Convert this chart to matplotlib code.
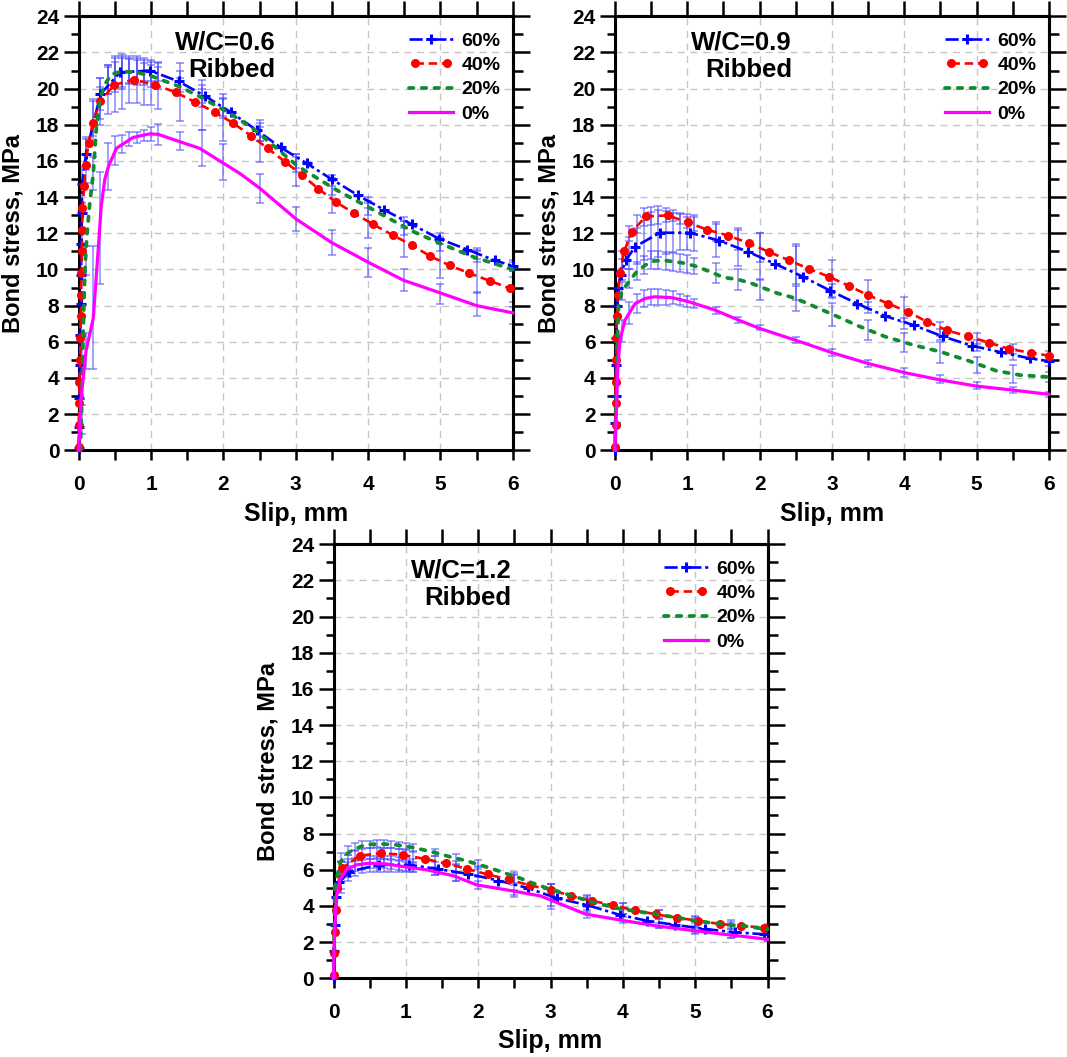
import matplotlib
matplotlib.use("Agg")
import matplotlib.pyplot as plt
from matplotlib.ticker import MultipleLocator
from matplotlib.legend_handler import HandlerLine2D

plt.rcParams['font.family'] = ['Liberation Sans', 'DejaVu Sans']
plt.rcParams['font.weight'] = 'bold'

# ---------------- data ----------------
series_labels = ['60%', '40%', '20%', '0%']
panel_titles = ['W/C=0.6', 'W/C=0.9', 'W/C=1.2']
bar_type = 'Ribbed'
x_label = 'Slip, mm'
y_label = 'Bond stress, MPa'

# Panel W/C=0.6
tl_x60 = [0, .004, .009, .014, .019, .024, .03, .037, .04, .047, .1, .3, .57, .98, 1.38, 1.74, 2.1, 2.46, 2.79, 3.15, 3.5, 3.86, 4.22, 4.6, 4.98, 5.37, 5.75, 6.0]
tl_y60 = [0.1, 1.3, 2.9, 4.7, 6.4, 8.1, 9.7, 11.4, 13.1, 14.75, 16.4, 19.7, 20.9, 21.0, 20.4, 19.6, 18.7, 17.7, 16.75, 15.87, 14.98, 14.1, 13.3, 12.5, 11.7, 11.1, 10.5, 10.2]
tl_x40 = [0, 0, .009, .009, .019, .023, .028, .033, .037, .042, .047, .051, .075, .093, .135, .196, .294, .49, .76, 1.06, 1.34, 1.61, 1.88, 2.13, 2.38, 2.61, 2.85, 3.09, 3.31, 3.55, 3.81, 4.07, 4.34, 4.6, 4.86, 5.13, 5.4, 5.69, 5.96]
tl_y40 = [0.19, 1.4, 2.6, 3.8, 5.0, 6.2, 7.4, 8.6, 9.8, 11.0, 12.2, 13.4, 14.6, 15.8, 17.0, 18.1, 19.3, 20.2, 20.5, 20.2, 19.8, 19.25, 18.7, 18.1, 17.4, 16.7, 15.96, 15.2, 14.47, 13.74, 13.1, 12.49, 11.9, 11.35, 10.73, 10.22, 9.79, 9.36, 8.95]
tl_x20 = [.02, .04, .055, .07, .085, .11, .15, .2, .24, .29, .34, .45, .6, .8, 1.0, 1.4, 1.7, 2.1, 2.44, 3.03, 3.56, 4.07, 4.62, 4.99, 5.45, 6.0]
tl_y20 = [0, 2.5, 5.5, 8.0, 10.0, 11.8, 13.6, 15.3, 17.7, 19.2, 20.1, 20.8, 20.95, 20.9, 20.7, 20.1, 19.5, 18.6, 17.7, 15.7, 14.4, 13.3, 12.1, 11.45, 10.7, 10.0]
tl_x0 = [0, .03, .1, .2, .27, .31, .36, .41, .52, .75, .98, 1.1, 1.4, 1.67, 1.97, 2.23, 2.5, 3.0, 3.49, 4.0, 4.49, 5.0, 5.5, 6.0]
tl_y0 = [0, 2.8, 5.5, 7.3, 11.2, 13.5, 15.0, 15.7, 16.7, 17.3, 17.5, 17.47, 17.06, 16.7, 15.95, 15.3, 14.5, 12.8, 11.5, 10.4, 9.4, 8.7, 8.0, 7.6]
tl_ex = [.05, .1, .2, .3, .4, .5, .6, .7, .8, .9, 1.0, 1.1, 1.4, 1.7, 2.0, 2.5, 3.0, 3.5, 4.0, 4.5, 5.0, 5.5, 6.0]
tl_ey60 = [14.7, 16.4, 18.4, 19.7, 20.5, 20.8, 20.9, 21.0, 21.0, 21.0, 21.0, 20.9, 20.4, 19.7, 19.1, 17.6, 16.0, 14.9, 13.7, 12.6, 11.7, 10.9, 10.2]
tl_ee60 = [1.0, 0.9, 1.0, 0.9, 0.8, 1.0, 0.9, 0.7, 0.7, 0.6, 0.6, 0.5, 0.6, 0.5, 0.6, 0.5, 0.4, 0.3, 0.3, 0.3, 0.3, 0.3, 0.3]
tl_ey40 = [12.2, 16.0, 18.1, 19.3, 19.9, 20.2, 20.4, 20.5, 20.5, 20.4, 20.3, 20.2, 19.8, 19.1, 18.3, 17.1, 15.5, 14.1, 12.7, 11.7, 10.6, 9.9, 8.9]
tl_ee40 = [1.2, 1.2, 1.2, 1.3, 1.3, 1.5, 1.5, 1.3, 1.3, 1.3, 1.2, 1.3, 1.6, 1.4, 1.2, 1.15, 0.87, 0.95, 0.97, 1.0, 1.05, 1.2, 1.0]
tl_ey20 = [5.5, 10.5, 15.3, 19.2, 20.5, 20.8, 20.9, 20.95, 20.9, 20.8, 20.7, 20.6, 20.1, 19.5, 18.9, 17.5, 15.8, 14.5, 13.4, 12.3, 11.4, 10.7, 10.0]
tl_ee20 = [0.8, 0.8, 0.9, 0.9, 0.8, 0.7, 0.8, 0.7, 0.7, 0.6, 0.6, 0.6, 0.5, 0.5, 0.5, 0.4, 0.4, 0.4, 0.4, 0.4, 0.4, 0.3, 0.4]
tl_ey0 = [1.7, 5.5, 7.9, 12.3, 15.7, 16.6, 16.95, 17.2, 17.3, 17.4, 17.5, 17.47, 17.1, 16.7, 15.95, 14.5, 12.8, 11.5, 10.4, 9.4, 8.65, 8.1, 7.6]
tl_ee0 = [0.8, 1.0, 3.4, 3.1, 1.3, 0.8, 0.5, 0.4, 0.3, 0.3, 0.4, 0.6, 0.5, 1.0, 1.0, 0.8, 0.65, 0.7, 0.8, 0.6, 0.55, 0.67, 0.6]

# Panel W/C=0.9
tr_x60 = [0, .005, .01, .015, .02, .03, .04, .08, .15, .28, .62, 1.04, 1.44, 1.84, 2.22, 2.6, 2.98, 3.35, 3.74, 4.13, 4.53, 4.93, 5.34, 5.74, 6.0]
tr_y60 = [0, 1.5, 3.0, 4.7, 6.2, 8.0, 9.0, 9.7, 10.5, 11.26, 12.03, 12.03, 11.6, 10.98, 10.3, 9.6, 8.82, 8.11, 7.42, 6.92, 6.3, 5.79, 5.42, 5.08, 4.93]
tr_x40 = [0, .009, .009, .009, .019, .019, .028, .043, .071, .128, .232, .426, .73, 1.01, 1.28, 1.57, 1.86, 2.13, 2.41, 2.68, 2.96, 3.23, 3.5, 3.78, 4.05, 4.32, 4.59, 4.88, 5.17, 5.45, 5.75, 6.0]
tr_y40 = [0.19, 1.4, 2.6, 3.8, 5.0, 6.2, 7.4, 8.6, 9.8, 11.0, 12.07, 12.93, 12.99, 12.6, 12.19, 11.87, 11.44, 10.97, 10.5, 10.04, 9.6, 9.1, 8.58, 8.11, 7.66, 7.1, 6.64, 6.3, 5.96, 5.6, 5.4, 5.23]
tr_x20 = [0, .015, .03, .05, .09, .14, .3, .42, .55, .72, .93, 1.11, 1.32, 1.5, 1.7, 1.89, 2.07, 2.25, 2.45, 2.61, 3.0, 3.37, 3.74, 4.13, 4.5, 4.89, 5.27, 5.6, 6.0]
tr_y20 = [0, 2.5, 5.5, 8.0, 8.7, 9.04, 9.87, 10.24, 10.48, 10.48, 10.37, 10.19, 9.87, 9.56, 9.45, 9.23, 8.95, 8.68, 8.46, 8.21, 7.53, 6.87, 6.28, 5.82, 5.45, 4.95, 4.4, 4.16, 4.05]
tr_x0 = [0, .02, .04, .07, .14, .28, .42, .55, .79, 1.02, 1.38, 1.71, 2.0, 2.35, 2.63, 3.0, 3.5, 4.01, 4.5, 5.0, 5.5, 5.88, 6.0]
tr_y0 = [0, 2.0, 4.5, 6.1, 7.2, 8.12, 8.4, 8.49, 8.44, 8.22, 7.76, 7.2, 6.74, 6.28, 5.91, 5.4, 4.8, 4.29, 3.89, 3.55, 3.33, 3.15, 3.1]
tr_ex = [.1, .2, .3, .4, .5, .6, .7, .8, .9, 1.0, 1.1, 1.4, 1.7, 2.0, 2.5, 3.0, 3.5, 4.0, 4.5, 5.0, 5.5, 6.0]
tr_ey60 = [10.0, 10.9, 11.3, 11.7, 11.9, 12.0, 12.05, 12.05, 12.05, 12.05, 12.0, 11.6, 11.2, 10.7, 9.8, 8.8, 7.9, 7.0, 6.4, 5.8, 5.3, 4.95]
tr_ee60 = [0.6, 0.9, 1.0, 1.2, 1.3, 1.3, 1.2, 1.1, 1.0, 1.0, 1.0, 0.9, 1.0, 1.3, 1.5, 0.4, 0.3, 0.3, 0.3, 0.3, 0.3, 0.3]
tr_ey40 = [10.5, 12.0, 12.5, 12.9, 12.95, 13.0, 13.0, 13.0, 12.8, 12.6, 12.5, 12.1, 11.7, 11.2, 10.3, 9.5, 8.6, 7.8, 6.7, 6.2, 5.6, 5.2]
tr_ee40 = [0.5, 0.4, 0.5, 0.5, 0.5, 0.5, 0.4, 0.3, 0.3, 0.3, 0.4, 0.5, 0.6, 0.8, 1.1, 1.0, 0.8, 0.7, 0.4, 0.3, 0.3, 0.3]
tr_ey20 = [8.8, 9.5, 9.9, 10.25, 10.5, 10.5, 10.45, 10.4, 10.35, 10.3, 10.2, 9.8, 9.45, 8.9, 8.4, 7.5, 6.65, 5.95, 5.4, 4.7, 4.2, 4.05]
tr_ee20 = [0.5, 0.5, 0.5, 0.5, 0.5, 0.5, 0.5, 0.5, 0.5, 0.5, 0.45, 0.55, 0.6, 0.6, 0.7, 0.63, 0.55, 0.53, 0.6, 0.45, 0.5, 0.3]
tr_ey0 = [6.6, 7.6, 8.12, 8.4, 8.49, 8.49, 8.46, 8.44, 8.35, 8.22, 8.1, 7.74, 7.2, 6.8, 6.1, 5.4, 4.8, 4.3, 3.93, 3.58, 3.33, 3.1]
tr_ee0 = [0.6, 0.6, 0.5, 0.45, 0.45, 0.45, 0.4, 0.35, 0.3, 0.3, 0.25, 0.2, 0.18, 0.15, 0.15, 0.2, 0.2, 0.23, 0.23, 0.21, 0.18, 0.15]

# Panel W/C=1.2
b_x60 = [0, .01, .02, .04, .08, .22, .63, 1.05, 1.45, 1.86, 2.28, 2.69, 3.09, 3.5, 3.96, 4.33, 4.72, 5.14, 5.55, 5.95]
b_y60 = [0, 1.5, 2.95, 4.5, 5.3, 5.9, 6.27, 6.27, 6.03, 5.77, 5.4, 4.98, 4.42, 4.05, 3.5, 3.18, 2.95, 2.72, 2.54, 2.43]
b_x40 = [0, .01, .02, .034, .044, .12, .36, .655, .955, 1.26, 1.55, 1.84, 2.13, 2.42, 2.71, 3.0, 3.29, 3.58, 3.87, 4.17, 4.46, 4.75, 5.04, 5.34, 5.63, 5.95]
b_y40 = [0.19, 1.38, 2.58, 3.79, 4.99, 6.09, 6.77, 6.92, 6.82, 6.6, 6.35, 6.05, 5.74, 5.46, 5.14, 4.89, 4.55, 4.27, 4.04, 3.75, 3.53, 3.34, 3.18, 3.0, 2.9, 2.8]
b_x20 = [0, .02, .09, .16, .27, .44, .64, .85, 1.03, 1.24, 1.43, 1.63, 1.82, 2.02, 2.21, 2.4, 2.58, 2.76, 2.95, 3.16, 3.55, 3.92, 4.31, 4.72, 5.07, 5.48, 5.67, 6.0]
b_y20 = [0, 5.07, 6.36, 6.82, 7.1, 7.38, 7.43, 7.38, 7.28, 7.1, 6.92, 6.69, 6.51, 6.27, 6.03, 5.77, 5.53, 5.25, 4.98, 4.73, 4.24, 3.87, 3.63, 3.37, 3.13, 2.95, 2.89, 2.7]
b_x0 = [0, .01, .04, .09, .18, .32, .5, .74, .97, 1.29, 1.66, 1.98, 2.4, 2.86, 3.0, 3.48, 3.96, 4.47, 4.98, 5.48, 5.69, 6.0]
b_y0 = [0, 2.0, 4.5, 5.44, 6.0, 6.27, 6.36, 6.31, 6.17, 5.99, 5.66, 5.16, 4.88, 4.55, 4.33, 3.55, 3.22, 2.89, 2.63, 2.39, 2.3, 2.15]
b_ex = [.1, .2, .3, .4, .5, .6, .7, .8, .9, 1.0, 1.1, 1.4, 1.7, 2.0, 2.5, 3.0, 3.5, 4.0, 4.5, 5.0, 5.5, 6.0]
b_ey60 = [5.6, 6.0, 6.15, 6.25, 6.3, 6.3, 6.3, 6.3, 6.28, 6.27, 6.25, 6.05, 5.85, 5.65, 5.15, 4.6, 4.05, 3.5, 3.05, 2.77, 2.55, 2.43]
b_ee60 = [0.9, 0.6, 0.5, 0.45, 0.45, 0.45, 0.45, 0.45, 0.4, 0.4, 0.35, 0.35, 0.45, 0.5, 0.55, 0.6, 0.4, 0.35, 0.3, 0.3, 0.3, 0.35]
b_ey40 = [6.1, 6.5, 6.77, 6.85, 6.9, 6.92, 6.9, 6.88, 6.84, 6.82, 6.75, 6.45, 6.2, 5.9, 5.45, 4.9, 4.3, 3.85, 3.52, 3.16, 2.95, 2.78]
b_ee40 = [0.3, 0.3, 0.3, 0.3, 0.3, 0.3, 0.3, 0.3, 0.3, 0.3, 0.3, 0.3, 0.3, 0.3, 0.3, 0.3, 0.3, 0.3, 0.25, 0.25, 0.25, 0.2]
b_ey20 = [6.7, 7.05, 7.25, 7.38, 7.41, 7.43, 7.42, 7.4, 7.35, 7.28, 7.2, 6.95, 6.55, 6.27, 5.55, 4.9, 4.25, 3.85, 3.5, 3.13, 2.92, 2.7]
b_ee20 = [0.25, 0.25, 0.2, 0.2, 0.2, 0.2, 0.2, 0.2, 0.2, 0.2, 0.2, 0.2, 0.3, 0.25, 0.3, 0.3, 0.3, 0.3, 0.25, 0.3, 0.2, 0.2]
b_ey0 = [5.45, 6.0, 6.25, 6.33, 6.36, 6.35, 6.32, 6.28, 6.22, 6.17, 6.1, 5.92, 5.6, 5.16, 4.7, 4.33, 3.55, 3.22, 2.9, 2.63, 2.39, 2.15]
b_ee0 = [0.5, 0.4, 0.3, 0.3, 0.25, 0.25, 0.25, 0.25, 0.25, 0.25, 0.25, 0.2, 0.2, 0.2, 0.2, 0.5, 0.2, 0.15, 0.15, 0.15, 0.15, 0.1]

panels = [
    dict(lines=[(tl_x60, tl_y60), (tl_x40, tl_y40), (tl_x20, tl_y20), (tl_x0, tl_y0)],
         ex=tl_ex, errs=[(tl_ey60, tl_ee60), (tl_ey40, tl_ee40), (tl_ey20, tl_ee20), (tl_ey0, tl_ee0)]),
    dict(lines=[(tr_x60, tr_y60), (tr_x40, tr_y40), (tr_x20, tr_y20), (tr_x0, tr_y0)],
         ex=tr_ex, errs=[(tr_ey60, tr_ee60), (tr_ey40, tr_ee40), (tr_ey20, tr_ee20), (tr_ey0, tr_ee0)]),
    dict(lines=[(b_x60, b_y60), (b_x40, b_y40), (b_x20, b_y20), (b_x0, b_y0)],
         ex=b_ex, errs=[(b_ey60, b_ee60), (b_ey40, b_ee40), (b_ey20, b_ee20), (b_ey0, b_ee0)]),
]

# ---------------- style ----------------
styles = [
    dict(color='#0000ff', ls=(0, (5, 1.4, 1.2, 1.4)), lw=1.9, marker='+', ms=7.5, mew=2.2),
    dict(color='#ff0000', ls=(0, (3.2, 1.8)), lw=1.9, marker='o', ms=6.5, mew=0),
    dict(color='#128a2e', ls=(0, (1.2, 2.2)), lw=2.7, dash_capstyle='round'),
    dict(color='#ff00ff', ls='-', lw=2.3),
]
err_color = (0.25, 0.25, 1.0, 0.62)

W, H = 1067, 1057
fig = plt.figure(figsize=(W / 100, H / 100), dpi=100)
boxes = [(78.8, 450.3), (614.9, 450.3), (333.5, 978.2)]  # pixel (x of x=0, y of y=0)
title_x = [0.453, 0.408, 0.41]
size = 434.0

for p, (px0, py0), tx, title in zip(panels, boxes, title_x, panel_titles):
    ax = fig.add_axes([px0 / W, (H - py0) / H, size / W, size / H])
    ax.set_xlim(0, 6)
    ax.set_ylim(0, 24)
    ax.set_axisbelow(True)
    ax.grid(True, which='major', color='#c6c6c6', ls=(0, (5, 4)), lw=1.0)
    for (ey, ee) in p['errs']:
        ax.errorbar(p['ex'], ey, yerr=ee, fmt='none', ecolor=err_color,
                    elinewidth=1.1, capsize=2.6, capthick=1.1, zorder=2)
    handles = []
    for (x, y), st, lab in zip(p['lines'], styles, series_labels):
        h, = ax.plot(x, y, label=lab, clip_on=False, zorder=3, **st)
        handles.append(h)
    leg = ax.legend(handles=handles, loc='upper right', bbox_to_anchor=(0.972, 0.963),
                    frameon=False, fontsize=14, handlelength=2.25, handletextpad=0.45,
                    labelspacing=0.34, borderpad=0, borderaxespad=0, numpoints=1,
                    handler_map={handles[1]: HandlerLine2D(numpoints=2)})
    for t in leg.get_texts():
        t.set_fontweight('bold')
    ax.text(tx, 0.94, title, transform=ax.transAxes, ha='right', va='center',
            fontsize=18.5, fontweight='bold')
    ax.text(tx, 0.877, bar_type, transform=ax.transAxes, ha='right', va='center',
            fontsize=18.5, fontweight='bold')

    for sp in ax.spines.values():
        sp.set_linewidth(2.2)
    ax.xaxis.set_major_locator(MultipleLocator(1))
    ax.xaxis.set_minor_locator(MultipleLocator(0.5))
    ax.yaxis.set_major_locator(MultipleLocator(2))
    ax.yaxis.set_minor_locator(MultipleLocator(1))
    ax.tick_params(axis='x', which='both', direction='out', length=7, width=1.8,
                   labelsize=15, pad=11, top=False)
    ax.tick_params(axis='y', which='major', direction='out', length=11, width=1.8,
                   labelsize=15, pad=3, right=False)
    ax.tick_params(axis='y', which='minor', direction='out', length=6, width=1.8, right=False)
    for lab in ax.get_xticklabels() + ax.get_yticklabels():
        lab.set_fontweight('bold')

    sx = ax.secondary_xaxis('top')
    sx.xaxis.set_major_locator(MultipleLocator(1))
    sx.xaxis.set_minor_locator(MultipleLocator(0.5))
    sx.tick_params(axis='x', which='both', direction='out', length=11, width=1.8, labeltop=False)
    sx.spines['top'].set_linewidth(2.2)
    sy = ax.secondary_yaxis('right')
    sy.yaxis.set_major_locator(MultipleLocator(2))
    sy.yaxis.set_minor_locator(MultipleLocator(1))
    sy.tick_params(axis='y', which='major', direction='out', length=12, width=1.8, labelright=False)
    sy.tick_params(axis='y', which='minor', direction='out', length=7, width=1.8)
    sy.spines['right'].set_linewidth(2.2)

    ax.set_xlabel(x_label, fontsize=18, fontweight='bold')
    ax.set_ylabel(y_label, fontsize=17, fontweight='bold')
    ax.xaxis.set_label_coords(0.5, -0.118)
    ax.yaxis.set_label_coords(-0.125, 0.5)

fig.savefig('out.png', dpi=100)
